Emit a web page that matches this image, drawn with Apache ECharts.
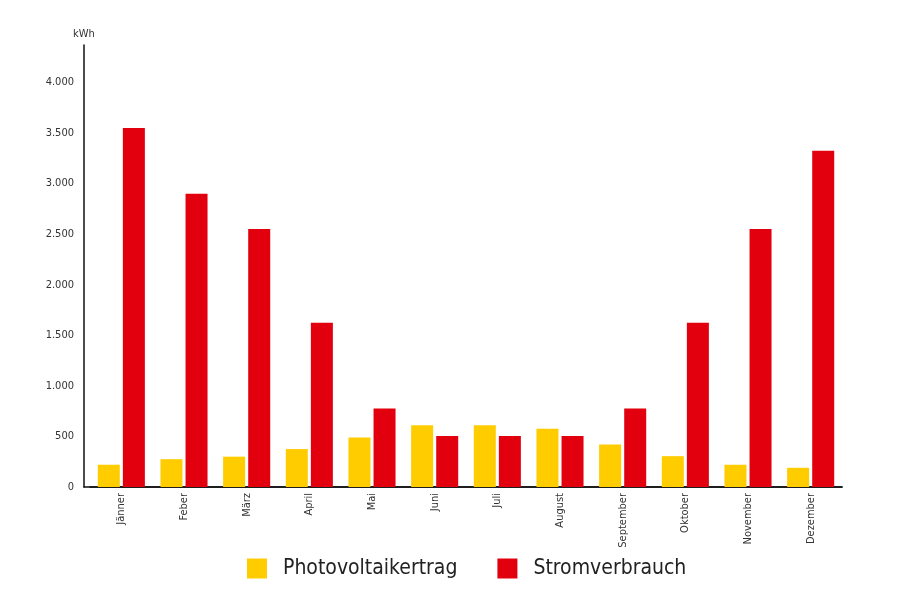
<!DOCTYPE html>
<html>
<head>
<meta charset="utf-8">
<script src="https://cdn.jsdelivr.net/npm/echarts@6/dist/echarts.min.js"></script>
<style>html,body{margin:0;padding:0;background:#fff}#c{width:900px;height:600px}</style>
</head>
<body>
<div id="c"></div>
<script>
var months = ['Jänner','Feber','März','April','Mai','Juni','Juli','August','September','Oktober','November','Dezember'];
var photovoltaik = [220, 275, 300, 375, 490, 610, 610, 575, 420, 305, 220, 190];
var strom = [3550, 2900, 2550, 1625, 775, 505, 505, 505, 775, 1625, 2550, 3325];
var seriesNames = ['Photovoltaikertrag', 'Stromverbrauch'];
var unit = 'kWh';

var font = "'Liberation Sans Narrow', 'DejaVu Sans Condensed', 'Roboto', sans-serif";
function fmt(v){ return String(v).replace(/\B(?=(\d{3})+(?!\d))/g, '.'); }

var chart = echarts.init(document.getElementById('c'), null, {renderer:'canvas'});
chart.setOption({
  animation: false,
  textStyle: {fontFamily: font},
  grid: [
    {left: 90, right: 58, top: 45, bottom: 113, containLabel: false},
    {left: 84, right: 58, top: 45, bottom: 113, containLabel: false}
  ],
  legend: {
    data: seriesNames,
    left: 247, top: 558, padding: 0,
    itemWidth: 20, itemHeight: 20, itemGap: 40,
    icon: 'rect',
    textStyle: {fontSize: 21, color: '#222', fontFamily: font, padding: [2,0,0,11]}
  },
  xAxis: [
    {
      type: 'category',
      gridIndex: 0,
      data: months,
      axisLine: {lineStyle: {color: '#111', width: 1.5}},
      axisTick: {show: false},
      axisLabel: {rotate: 90, fontSize: 11, color: '#333', margin: 6, fontFamily: font}
    },
    {
      type: 'value', gridIndex: 1, min: 0, max: 1,
      axisLine: {show: true, lineStyle: {color: '#111', width: 1.5}},
      axisTick: {show: false}, axisLabel: {show: false}, splitLine: {show: false}
    }
  ],
  yAxis: [
    {
      type: 'value',
      gridIndex: 0,
      min: 0, max: 4370, interval: 500,
      offset: 6,
      name: unit,
      nameLocation: 'end',
      nameGap: 5,
      nameTextStyle: {fontSize: 11, color: '#333', fontFamily: font},
      axisLine: {show: true, lineStyle: {color: '#111', width: 1.5}},
      axisTick: {show: false},
      splitLine: {show: false},
      axisLabel: {fontSize: 11, color: '#333', margin: 10, showMaxLabel: false, formatter: fmt, fontFamily: font}
    },
    {
      type: 'value', gridIndex: 1, min: 0, max: 1, show: false
    }
  ],
  series: [
    {name: seriesNames[0], type: 'bar', data: photovoltaik, barWidth: 22, barGap: '14%', itemStyle: {color: '#FFCC00'}},
    {name: seriesNames[1], type: 'bar', data: strom, barWidth: 22, barGap: '14%', itemStyle: {color: '#E2000F'}}
  ]
});
</script>
</body>
</html>
